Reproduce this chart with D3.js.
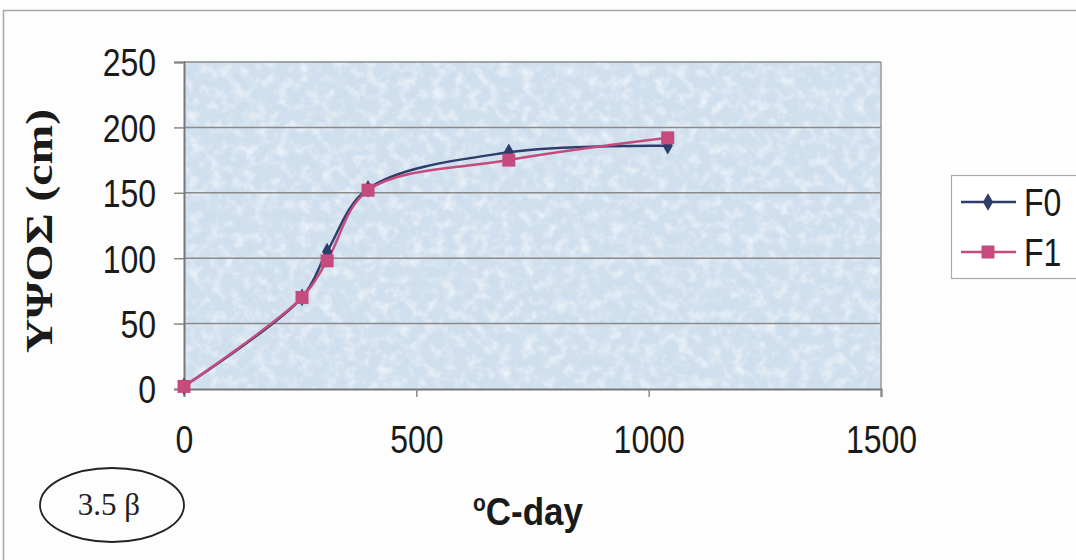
<!DOCTYPE html>
<html>
<head>
<meta charset="utf-8">
<script src="https://cdn.jsdelivr.net/npm/d3@7"></script>
<style>
  body { margin: 0; background: #fdfdfd; }
  svg { display: block; }
</style>
</head>
<body>
<svg id="chart" width="1076" height="560"></svg>
<script>
// --- data ---
const degreeDays = [0, 254, 308, 396, 699, 1041];
const heightF0 = [2, 70, 105, 153, 181, 186];
const heightF1 = [2, 70, 98, 152, 175, 192];
const seriesNames = ["F0", "F1"];
const xTicks = [0, 500, 1000, 1500];
const yTicks = [0, 50, 100, 150, 200, 250];

const colors = { F0: "#2f3d6b", F1: "#c54a7e" };
const sans = "Arial, 'Liberation Sans', sans-serif";
const serif = "'Liberation Serif', 'Times New Roman', serif";

const svg = d3.select("#chart");
const plot = { left: 184, right: 881, top: 62, bottom: 389 };

const x = d3.scaleLinear().domain([0, 1500]).range([plot.left, plot.right]);
const y = d3.scaleLinear().domain([0, 250]).range([plot.bottom, plot.top]);

// outer frame (only top and left edges show)
svg.append("path")
  .attr("d", "M3.5,560 V10.5 H1076")
  .attr("fill", "none").attr("stroke", "#a8a8a8").attr("stroke-width", 1.5);

// textured blue background
const defs = svg.append("defs");
const f = defs.append("filter").attr("id", "mottle")
  .attr("x", 0).attr("y", 0).attr("width", "100%").attr("height", "100%");
f.append("feTurbulence").attr("type", "fractalNoise")
  .attr("baseFrequency", "0.09").attr("numOctaves", 3).attr("seed", 7);
f.append("feColorMatrix").attr("type", "matrix")
  .attr("values", "0 0 0 0 1  0 0 0 0 1  0 0 0 0 1  1.6 0 0 0 -0.7");
f.append("feComposite").attr("in2", "SourceGraphic").attr("operator", "in");

svg.append("rect")
  .attr("x", plot.left).attr("y", plot.top)
  .attr("width", plot.right - plot.left).attr("height", plot.bottom - plot.top)
  .attr("fill", "#cfdfee");
svg.append("rect")
  .attr("x", plot.left).attr("y", plot.top)
  .attr("width", plot.right - plot.left).attr("height", plot.bottom - plot.top)
  .attr("fill", "#fff").attr("opacity", 0.85)
  .attr("filter", "url(#mottle)");

// grid lines
svg.append("g").selectAll("line")
  .data(yTicks.filter(d => d > 0))
  .join("line")
  .attr("x1", plot.left).attr("x2", plot.right)
  .attr("y1", d => y(d)).attr("y2", d => y(d))
  .attr("stroke", "#8a8a8a").attr("stroke-width", 1.5);

// right border of plot
svg.append("line")
  .attr("x1", plot.right).attr("x2", plot.right)
  .attr("y1", plot.top).attr("y2", plot.bottom)
  .attr("stroke", "#9a9a9a").attr("stroke-width", 1.5);

// axes
const yAxis = svg.append("g")
  .attr("transform", `translate(${plot.left},0)`)
  .call(d3.axisLeft(y).tickValues(yTicks).tickSize(10).tickPadding(18));
const xAxis = svg.append("g")
  .attr("transform", `translate(0,${plot.bottom})`)
  .call(d3.axisBottom(x).tickValues(xTicks).tickFormat(d3.format("d"))
    .tickSize(8).tickPadding(28));

[yAxis, xAxis].forEach(g => {
  g.select(".domain").attr("stroke", "#777").attr("stroke-width", 2);
  g.selectAll(".tick line").attr("stroke", "#888").attr("stroke-width", 1.5);
  g.selectAll(".tick text")
    .attr("font-family", sans)
    .attr("font-size", 32).attr("fill", "#1a1a1a");
});
yAxis.selectAll(".tick text")
  .attr("dy", "0.36em")
  .attr("transform", "scale(1,1.2)");
xAxis.selectAll(".tick text").attr("dy", "0.71em")
  .attr("transform", "translate(0,-6) scale(1,1.2)");

// series lines
const line = d3.line()
  .x(d => x(d[0])).y(d => y(d[1]))
  .curve(d3.curveCatmullRom.alpha(0.5));

const series = [
  { name: "F0", values: degreeDays.map((d, i) => [d, heightF0[i]]) },
  { name: "F1", values: degreeDays.map((d, i) => [d, heightF1[i]]) }
];

series.forEach(s => {
  svg.append("path").datum(s.values)
    .attr("d", line)
    .attr("fill", "none")
    .attr("stroke", colors[s.name])
    .attr("stroke-width", 2.5);
});

// markers
const diamond = d3.symbol().type(d3.symbolDiamond).size(90);
svg.append("g").selectAll("path")
  .data(series[0].values)
  .join("path")
  .attr("d", diamond)
  .attr("transform", d => `translate(${x(d[0])},${y(d[1])})`)
  .attr("fill", colors.F0);

svg.append("g").selectAll("rect")
  .data(series[1].values)
  .join("rect")
  .attr("x", d => x(d[0]) - 6.5).attr("y", d => y(d[1]) - 6.5)
  .attr("width", 13).attr("height", 13)
  .attr("fill", colors.F1);

// axis titles
svg.append("text")
  .attr("transform", "translate(52,231) rotate(-90)")
  .attr("text-anchor", "middle")
  .attr("font-family", serif)
  .attr("font-weight", "bold").attr("font-size", 38)
  .attr("textLength", 244).attr("lengthAdjust", "spacingAndGlyphs")
  .attr("fill", "#1a1a1a")
  .text("ΥΨΟΣ (cm)");

const xt = svg.append("text")
  .attr("transform", "translate(528,525) scale(1,1.1)")
  .attr("text-anchor", "middle")
  .attr("font-family", sans)
  .attr("font-weight", "bold").attr("font-size", 35)
  .attr("fill", "#1a1a1a");
xt.append("tspan").attr("font-size", 21).attr("dy", -13).text("o");
xt.append("tspan").attr("dy", 13).text("C-day");

// legend
const legend = svg.append("g");
legend.append("rect")
  .attr("x", 951.5).attr("y", 175.5).attr("width", 140).attr("height", 103)
  .attr("fill", "#fff").attr("stroke", "#aaa").attr("stroke-width", 1.2);
const rows = legend.selectAll("g.row")
  .data(seriesNames)
  .join("g").attr("class", "row")
  .attr("transform", (d, i) => `translate(0,${202 + i * 50})`);
rows.append("line")
  .attr("x1", 961).attr("x2", 1016)
  .attr("stroke", d => colors[d]).attr("stroke-width", 2.5);
rows.filter(d => d === "F0").append("path")
  .attr("d", diamond).attr("transform", "translate(988,0)")
  .attr("fill", colors.F0);
rows.filter(d => d === "F1").append("rect")
  .attr("x", 981.5).attr("y", -6.5).attr("width", 13).attr("height", 13)
  .attr("fill", colors.F1);
rows.append("text")
  .attr("x", 1024).attr("dy", "0.36em")
  .attr("font-family", sans)
  .attr("font-size", 32).attr("fill", "#1a1a1a")
  .attr("transform", "scale(1,1.2)")
  .text(d => d);

// "3.5 β" note
svg.append("ellipse")
  .attr("cx", 112).attr("cy", 505).attr("rx", 72).attr("ry", 37)
  .attr("fill", "none").attr("stroke", "#222").attr("stroke-width", 1.8);
svg.append("text")
  .attr("x", 109).attr("y", 515)
  .attr("text-anchor", "middle")
  .attr("font-family", serif)
  .attr("font-size", 31).attr("fill", "#222")
  .text("3.5 β");
</script>
</body>
</html>
